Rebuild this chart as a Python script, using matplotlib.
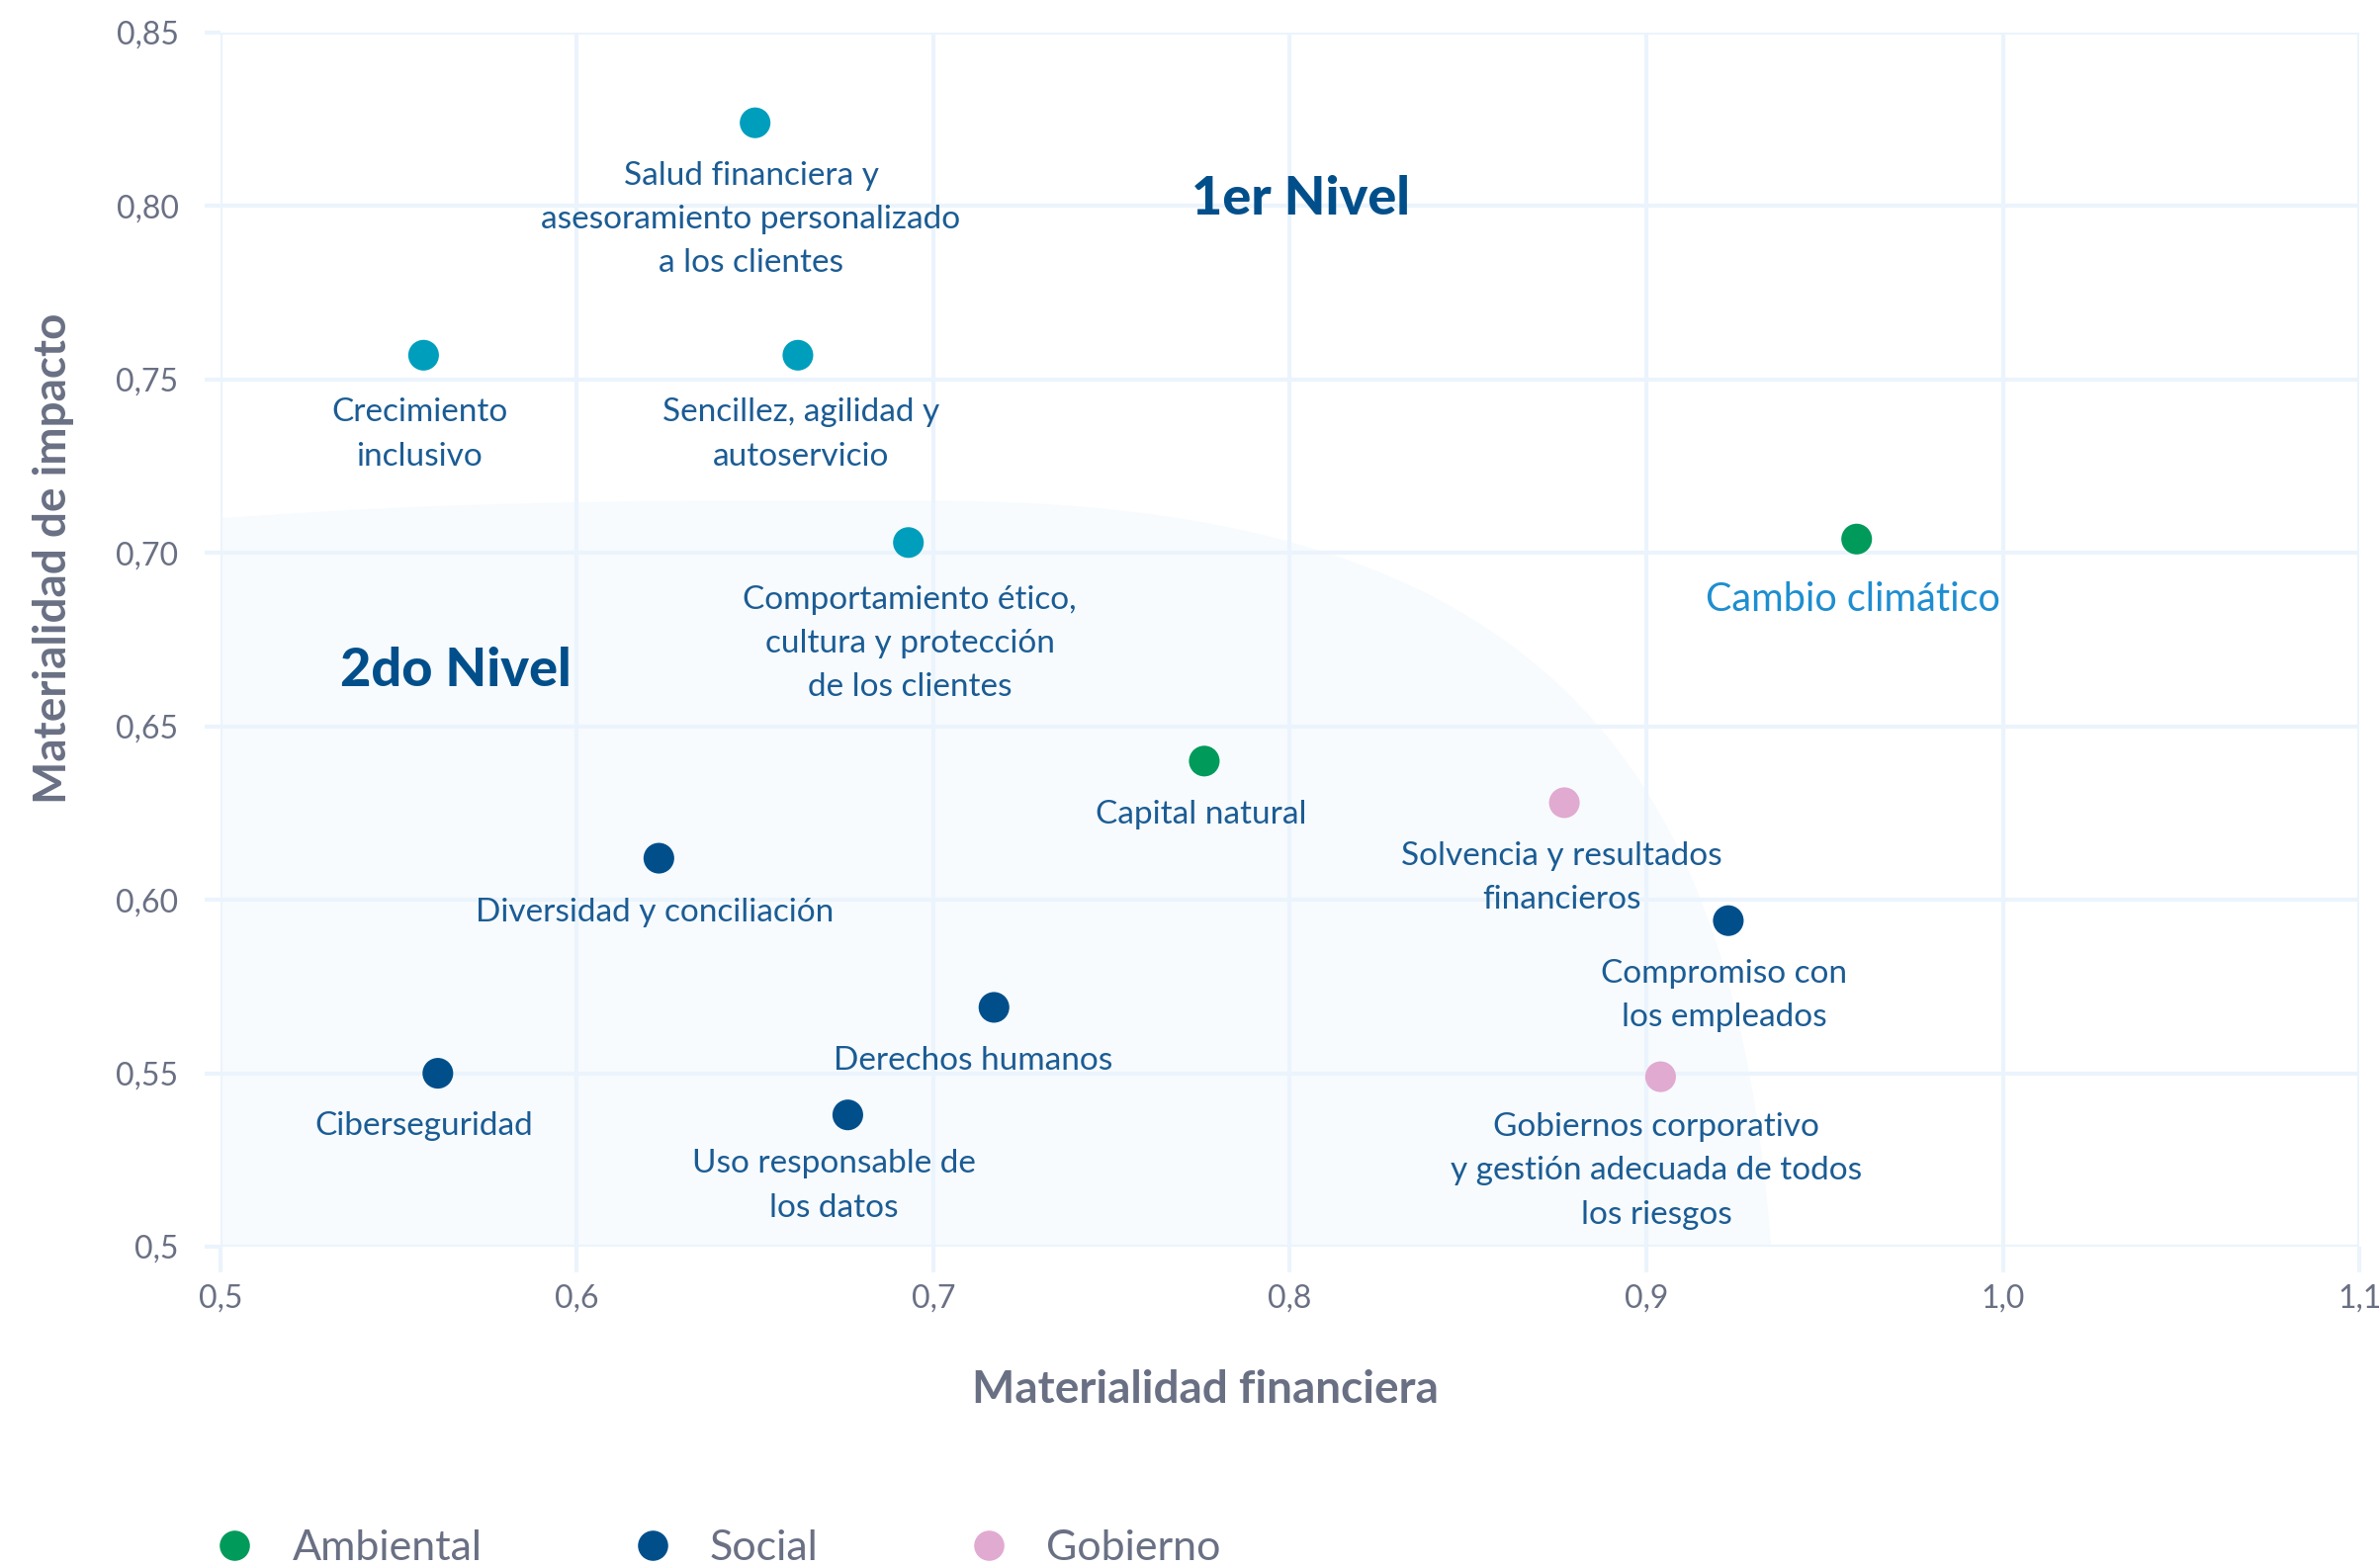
import matplotlib
matplotlib.use("Agg")
import matplotlib.pyplot as plt
from matplotlib.path import Path
from matplotlib.patches import PathPatch
from matplotlib.lines import Line2D

# ---------------- data ----------------
temas = [
    "Salud financiera y\nasesoramiento personalizado\na los clientes",
    "Crecimiento\ninclusivo",
    "Sencillez, agilidad y\nautoservicio",
    "Comportamiento ético,\ncultura y protección\nde los clientes",
    "Cambio climático",
    "Capital natural",
    "Solvencia y resultados\nfinancieros",
    "Diversidad y conciliación",
    "Compromiso con\nlos empleados",
    "Derechos humanos",
    "Ciberseguridad",
    "Gobiernos corporativo\ny gestión adecuada de todos\nlos riesgos",
    "Uso responsable de\nlos datos",
]
mat_financiera = [0.650, 0.557, 0.662, 0.693, 0.959, 0.776, 0.877, 0.623, 0.923, 0.717, 0.561, 0.904, 0.676]
mat_impacto    = [0.824, 0.757, 0.757, 0.703, 0.704, 0.640, 0.628, 0.612, 0.594, 0.569, 0.550, 0.549, 0.538]
grupo = ["Clientes", "Clientes", "Clientes", "Clientes", "Ambiental", "Ambiental", "Gobierno",
         "Social", "Social", "Social", "Social", "Gobierno", "Social"]

x_ticks = [0.5, 0.6, 0.7, 0.8, 0.9, 1.0, 1.1]
x_ticklabels = ["0,5", "0,6", "0,7", "0,8", "0,9", "1,0", "1,1"]
y_ticks = [0.5, 0.55, 0.6, 0.65, 0.7, 0.75, 0.8, 0.85]
y_ticklabels = ["0,5", "0,55", "0,60", "0,65", "0,70", "0,75", "0,80", "0,85"]

legend_groups = ["Ambiental", "Social", "Gobierno"]

# ---------------- styles ----------------
colores = {"Clientes": "#009EBD", "Ambiental": "#009A5A", "Social": "#004F8B", "Gobierno": "#E1AAD0"}
# label offsets (points): dx, dy
label_dx = [-3, -3, 2, 1, -3, -2, -2, -3, -3, -15, -10, -3, -10]
label_dy = [-28, -31, -31, -31, -31, -28, -28, -29, -28, -28, -28, -26, -25]

FONT = "Lato"
LABEL_COLOR = "#1B5C94"
GRAY = "#6A7084"
GRID = "#EBF4FC"

plt.rcParams["font.family"] = [FONT, "DejaVu Sans"]

fig = plt.figure(figsize=(24.07, 15.86), dpi=100)
ax = fig.add_axes([0.0926, 0.2049, 0.8987, 0.7743])
ax.set_xlim(0.5, 1.1)
ax.set_ylim(0.5, 0.85)

# background zone (2do Nivel)
verts = [(0.5, 0.5), (0.5, 0.710),
         (0.58, 0.716), (0.64, 0.715), (0.70, 0.715),
         (0.87, 0.715), (0.925, 0.64), (0.935, 0.5),
         (0.5, 0.5)]
codes = [Path.MOVETO, Path.LINETO,
         Path.CURVE4, Path.CURVE4, Path.CURVE4,
         Path.CURVE4, Path.CURVE4, Path.CURVE4,
         Path.CLOSEPOLY]
ax.add_patch(PathPatch(Path(verts, codes), facecolor="#F7FBFE", edgecolor="none", zorder=0.2))

ax.set_axisbelow(True)
ax.grid(True, color=GRID, lw=3)
for s in ax.spines.values():
    s.set_visible(False)

ax.set_xticks(x_ticks)
ax.set_xticklabels(x_ticklabels)
ax.set_yticks(y_ticks)
ax.set_yticklabels(y_ticklabels)
ax.tick_params(axis="x", length=19, width=3, color=GRID, pad=8, labelsize=23, labelcolor=GRAY)
ax.tick_params(axis="y", length=11.5, width=3, color=GRID, pad=19, labelsize=23, labelcolor=GRAY)

# points
for g in ["Clientes", "Ambiental", "Social", "Gobierno"]:
    xs = [x for x, gg in zip(mat_financiera, grupo) if gg == g]
    ys = [y for y, gg in zip(mat_impacto, grupo) if gg == g]
    ax.scatter(xs, ys, s=500, color=colores[g], edgecolors="none", zorder=3)

# labels
for i, t in enumerate(temas):
    is_cc = t == "Cambio climático"
    ax.annotate(t, (mat_financiera[i], mat_impacto[i]),
                xytext=(label_dx[i], label_dy[i]), textcoords="offset points",
                ha="center", va="top", multialignment="center",
                fontsize=28.5 if is_cc else 24,
                color="#1E8ED0" if is_cc else LABEL_COLOR,
                linespacing=1.59, zorder=4)

ax.text(0.803, 0.802, "1er Nivel", ha="center", va="center", fontsize=39,
        fontweight="black", color="#004F8B", zorder=4)
ax.text(0.566, 0.666, "2do Nivel", ha="center", va="center", fontsize=39,
        fontweight="black", color="#004F8B", zorder=4)

ax.set_xlabel("Materialidad financiera", fontsize=33, fontweight="bold", color=GRAY)
ax.xaxis.set_label_coords(0.4605, -0.118)
ax.xaxis.label.set_va("center")
ax.set_ylabel("Materialidad de impacto", fontsize=33, fontweight="bold", color=GRAY)
ax.yaxis.set_label_coords(-0.078, 0.567)
ax.yaxis.label.set_va("center")

handles = [Line2D([], [], marker="o", ls="none", markersize=22, markerfacecolor=colores[g],
                  markeredgecolor="none", label=g) for g in legend_groups]
leg = fig.legend(handles=handles, loc="center left", bbox_to_anchor=(0.0897, 0.0126),
                 ncol=3, frameon=False, fontsize=31, handlelength=1.0, handletextpad=0.85,
                 columnspacing=3.5, borderpad=0, borderaxespad=0)
for txt in leg.get_texts():
    txt.set_color(GRAY)

fig.savefig("out.png", dpi=100, facecolor="white")
